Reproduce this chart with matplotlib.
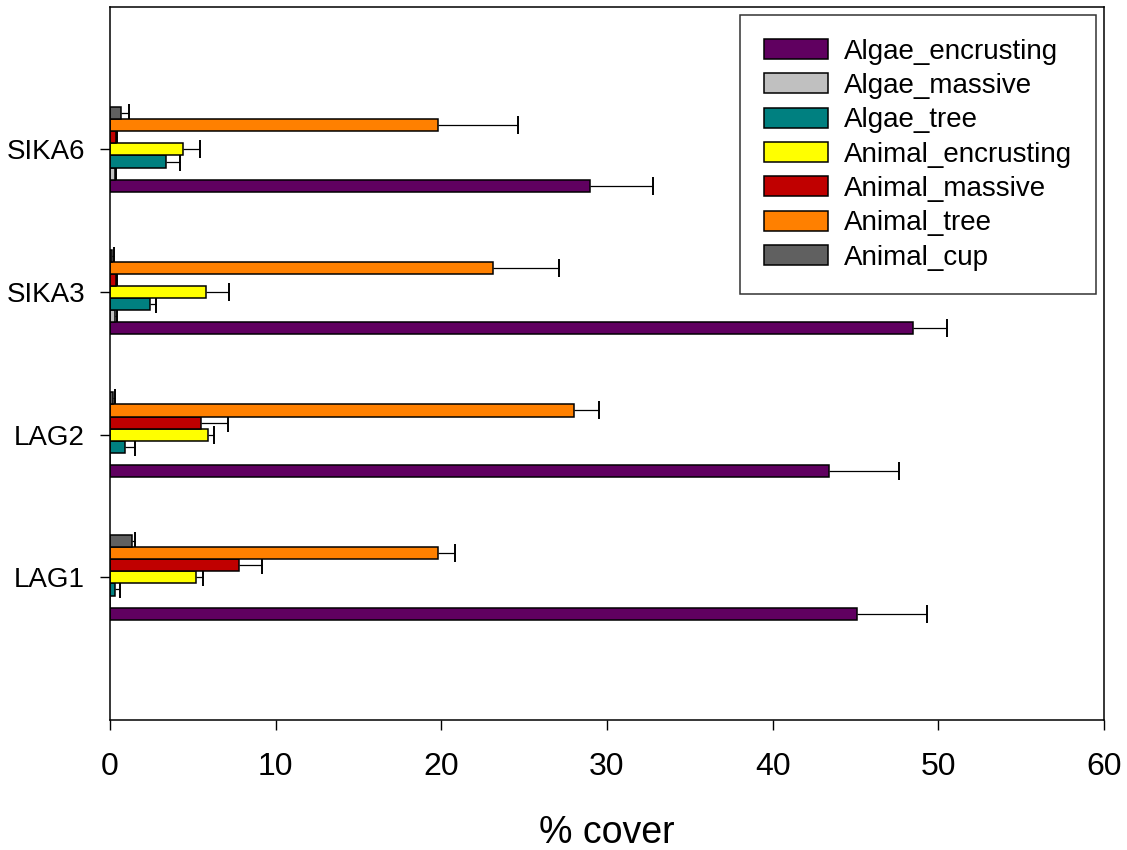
import numpy as np
import matplotlib
matplotlib.use("Agg")
from matplotlib import pyplot as plt

plt.rcParams['font.family'] = ['Liberation Sans', 'DejaVu Sans']

# sites, bottom to top on the y axis
sites = ["LAG1", "LAG2", "SIKA3", "SIKA6"]

# % cover per category (mean) and the + error bar
algae_encrusting = [45.1, 43.4, 48.5, 29.0]
algae_encrusting_err = [4.2, 4.2, 2.0, 3.8]
algae_massive = [0.0, 0.0, 0.3, 0.3]
algae_massive_err = [0.0, 0.0, 0.15, 0.06]
algae_tree = [0.3, 0.9, 2.4, 3.4]
algae_tree_err = [0.3, 0.6, 0.35, 0.85]
animal_encrusting = [5.2, 5.9, 5.8, 4.4]
animal_encrusting_err = [0.4, 0.35, 1.4, 1.05]
animal_massive = [7.8, 5.5, 0.35, 0.35]
animal_massive_err = [1.35, 1.6, 0.05, 0.05]
animal_tree = [19.8, 28.0, 23.1, 19.8]
animal_tree_err = [1.0, 1.5, 4.0, 4.8]
animal_cup = [1.3, 0.2, 0.15, 0.65]
animal_cup_err = [0.2, 0.1, 0.1, 0.5]

series = [
    ("Algae_encrusting", algae_encrusting, algae_encrusting_err, "#600060"),
    ("Algae_massive", algae_massive, algae_massive_err, "#C0C0C0"),
    ("Algae_tree", algae_tree, algae_tree_err, "#008080"),
    ("Animal_encrusting", animal_encrusting, animal_encrusting_err, "#FFFF00"),
    ("Animal_massive", animal_massive, animal_massive_err, "#C00000"),
    ("Animal_tree", animal_tree, animal_tree_err, "#FF8000"),
    ("Animal_cup", animal_cup, animal_cup_err, "#606060"),
]


def main():
    fig = plt.figure(figsize=(11.27, 8.5), dpi=100)
    ax = fig.add_axes([0.0976, 0.153, 0.882, 0.839])

    y = np.arange(1, len(sites) + 1)
    h = 0.085
    n = len(series)

    for j, (name, vals, errs, col) in enumerate(series):
        pos = y + (j - (n - 1) / 2) * h
        ax.barh(pos, vals, height=h, color=col, edgecolor="black",
                linewidth=1.1, label=name, zorder=2)
        vals = np.array(vals)
        errs = np.array(errs)
        keep = vals > 0
        # one-sided error bar: line from bar end, cap only at the far end
        ax.hlines(pos[keep], vals[keep], vals[keep] + errs[keep],
                  color="black", linewidth=0.9, zorder=1)
        ax.plot(vals[keep] + errs[keep], pos[keep], linestyle="none",
                marker="|", markersize=13.6, markeredgewidth=1.4,
                color="black", zorder=1)

    ax.set_xlim(0, 60)
    ax.set_ylim(0, 5)
    ax.set_xticks(np.arange(0, 61, 10))
    ax.set_yticks(y)
    ax.set_yticklabels(sites)

    for sp in ax.spines.values():
        sp.set_linewidth(1.1)
    ax.tick_params(axis="x", direction="out", length=7, width=1.0,
                   labelsize=23, pad=16, top=False)
    ax.tick_params(axis="y", direction="out", length=7, width=1.0,
                   labelsize=20, pad=11, right=False)
    ax.set_xlabel("% cover", fontsize=27, labelpad=24)

    leg = ax.legend(loc="upper right", fontsize=20, frameon=True,
                    fancybox=False, shadow=False, handlelength=2.3,
                    handleheight=0.72, handletextpad=0.58, labelspacing=0.3,
                    borderpad=0.85, borderaxespad=0.3)
    leg.get_frame().set_edgecolor("black")
    leg.get_frame().set_linewidth(1.1)

    fig.savefig("out.png", dpi=100)


if __name__ == "__main__":
    main()
